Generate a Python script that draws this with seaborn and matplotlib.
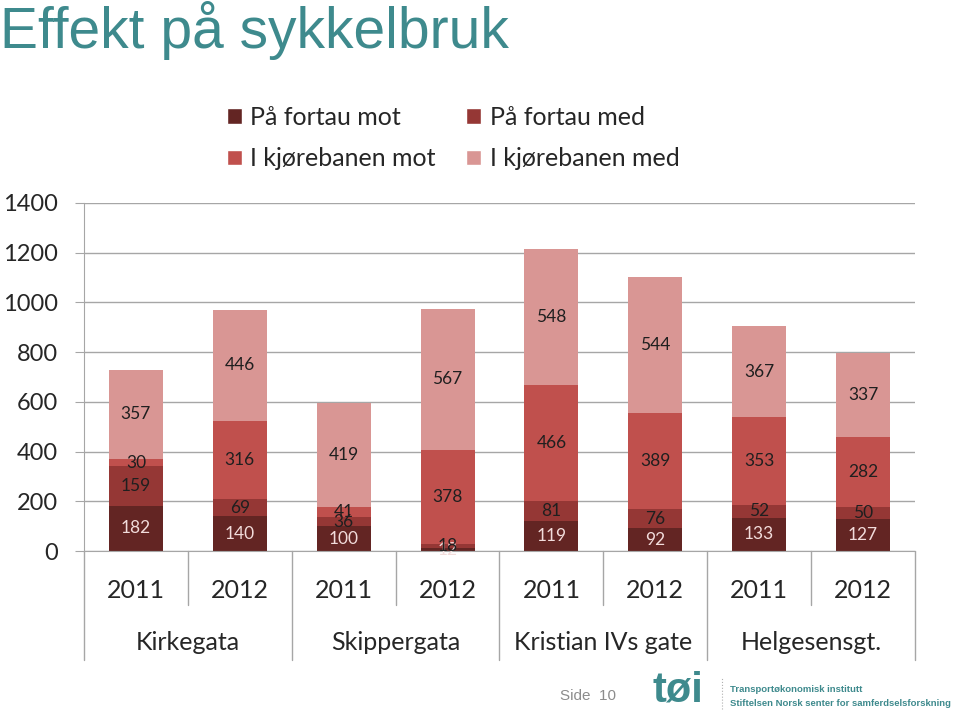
import numpy as np
import pandas as pd
import seaborn as sns
import matplotlib.pyplot as plt
import matplotlib.transforms as mtrans
from matplotlib.patches import Patch

streets = ["Kirkegata", "Skippergata", "Kristian IVs gate", "Helgesensgt."]
years = ["2011", "2012"]
series = ["På fortau mot", "På fortau med", "I kjørebanen mot", "I kjørebanen med"]
fortau_mot = [182, 140, 100, 12, 119, 92, 133, 127]
fortau_med = [159, 69, 36, 18, 81, 76, 52, 50]
kjorebanen_mot = [30, 316, 41, 378, 466, 389, 353, 282]
kjorebanen_med = [357, 446, 419, 567, 548, 544, 367, 337]
colors = ["#632523", "#953735", "#C0504D", "#D99694"]

sns.set_style("white")
plt.rcParams["font.family"] = ["Lato", "DejaVu Sans"]

bars = [f"{s} {y}" for s in streets for y in years]
values = np.array([fortau_mot, fortau_med, kjorebanen_mot, kjorebanen_med])
cum = np.cumsum(values, axis=0)
df = pd.DataFrame({"bar": bars})
for k in range(4):
    df[f"cum{k}"] = cum[k]

fig = plt.figure(figsize=(9.6, 7.13), dpi=100)
ax = fig.add_axes([0.0875, 0.2272, 0.8656, 0.4881])

# layered bars: draw totals first, then smaller partial sums on top
for k in reversed(range(4)):
    sns.barplot(data=df, x="bar", y=f"cum{k}", order=bars, color=colors[k],
                saturation=1, width=0.52, errorbar=None, ax=ax, zorder=2,
                linewidth=0, edgecolor="none")

# value labels in the middle of each segment
patches = ax.containers[-1].patches
for k in range(4):
    below = cum[k] - values[k]
    for i, p in enumerate(patches):
        v = values[k][i]
        ax.text(p.get_x() + p.get_width() / 2, below[i] + v / 2, str(v),
                ha="center", va="center", fontsize=12.5, zorder=3,
                color="#F2DCDB" if k == 0 else "#1F1F1F")

grid_c = "#A6A6A6"
ax.set_ylim(0, 1400)
ax.set_xlim(-0.5, 7.5)
ax.set_yticks(range(0, 1401, 200))
ax.set_axisbelow(True)
ax.yaxis.grid(True, color=grid_c, lw=1)
ax.xaxis.grid(False)
for s in ["top", "right"]:
    ax.spines[s].set_visible(False)
for s in ["left", "bottom"]:
    ax.spines[s].set_color(grid_c)
ax.tick_params(axis="y", left=True, length=6.5, color=grid_c, labelsize=17, pad=12)
ax.set_xticks(range(8))
ax.set_xticklabels(years * 4, fontsize=18)
ax.tick_params(axis="x", length=0, pad=20)
ax.set_xlabel("")
ax.set_ylabel("")

trans = mtrans.blended_transform_factory(ax.transData, ax.transAxes)
for g, street in enumerate(streets):
    ax.text(2 * g + 0.5, -0.262, street, transform=trans, ha="center",
            va="center", fontsize=18)
for x in [-0.5, 1.5, 3.5, 5.5, 7.5]:
    ax.plot([x, x], [0, -0.313], transform=trans, clip_on=False, color=grid_c, lw=1)
for x in [0.5, 2.5, 4.5, 6.5]:
    ax.plot([x, x], [0, -0.155], transform=trans, clip_on=False, color=grid_c, lw=1)

order = [0, 2, 1, 3]
handles = [Patch(facecolor=colors[k], label=series[k]) for k in order]
fig.legend(handles=handles, loc="upper left", bbox_to_anchor=(0.236, 0.852),
           ncol=2, frameon=False, fontsize=18, handlelength=0.6,
           handleheight=0.6, handletextpad=0.35, columnspacing=1.2,
           labelspacing=0.75, borderpad=0, borderaxespad=0)

fig.text(0.0, 0.998, "Effekt på sykkelbruk", ha="left", va="top",
         fontsize=41, color="#3E8A8D", family="Liberation Sans")

fig.text(0.583, 0.014, "Side  10", ha="left", va="bottom", fontsize=11,
         color="#8C8C8C", family="Liberation Sans")
fig.text(0.680, 0.004, "tøi", ha="left", va="bottom", fontsize=30,
         color="#3E8A8D", family="Liberation Sans", weight="bold")
fig.add_artist(plt.Line2D([0.752, 0.752], [0.005, 0.05], color="#B0B0B0",
                          lw=0.8, ls=":"))
fig.text(0.760, 0.027, "Transportøkonomisk institutt", ha="left", va="bottom",
         fontsize=6.8, color="#3E8A8D", family="Liberation Sans", weight="bold")
fig.text(0.760, 0.007, "Stiftelsen Norsk senter for samferdselsforskning",
         ha="left", va="bottom", fontsize=6.8, color="#3E8A8D",
         family="Liberation Sans", weight="bold")

fig.savefig("out.png", dpi=100)
